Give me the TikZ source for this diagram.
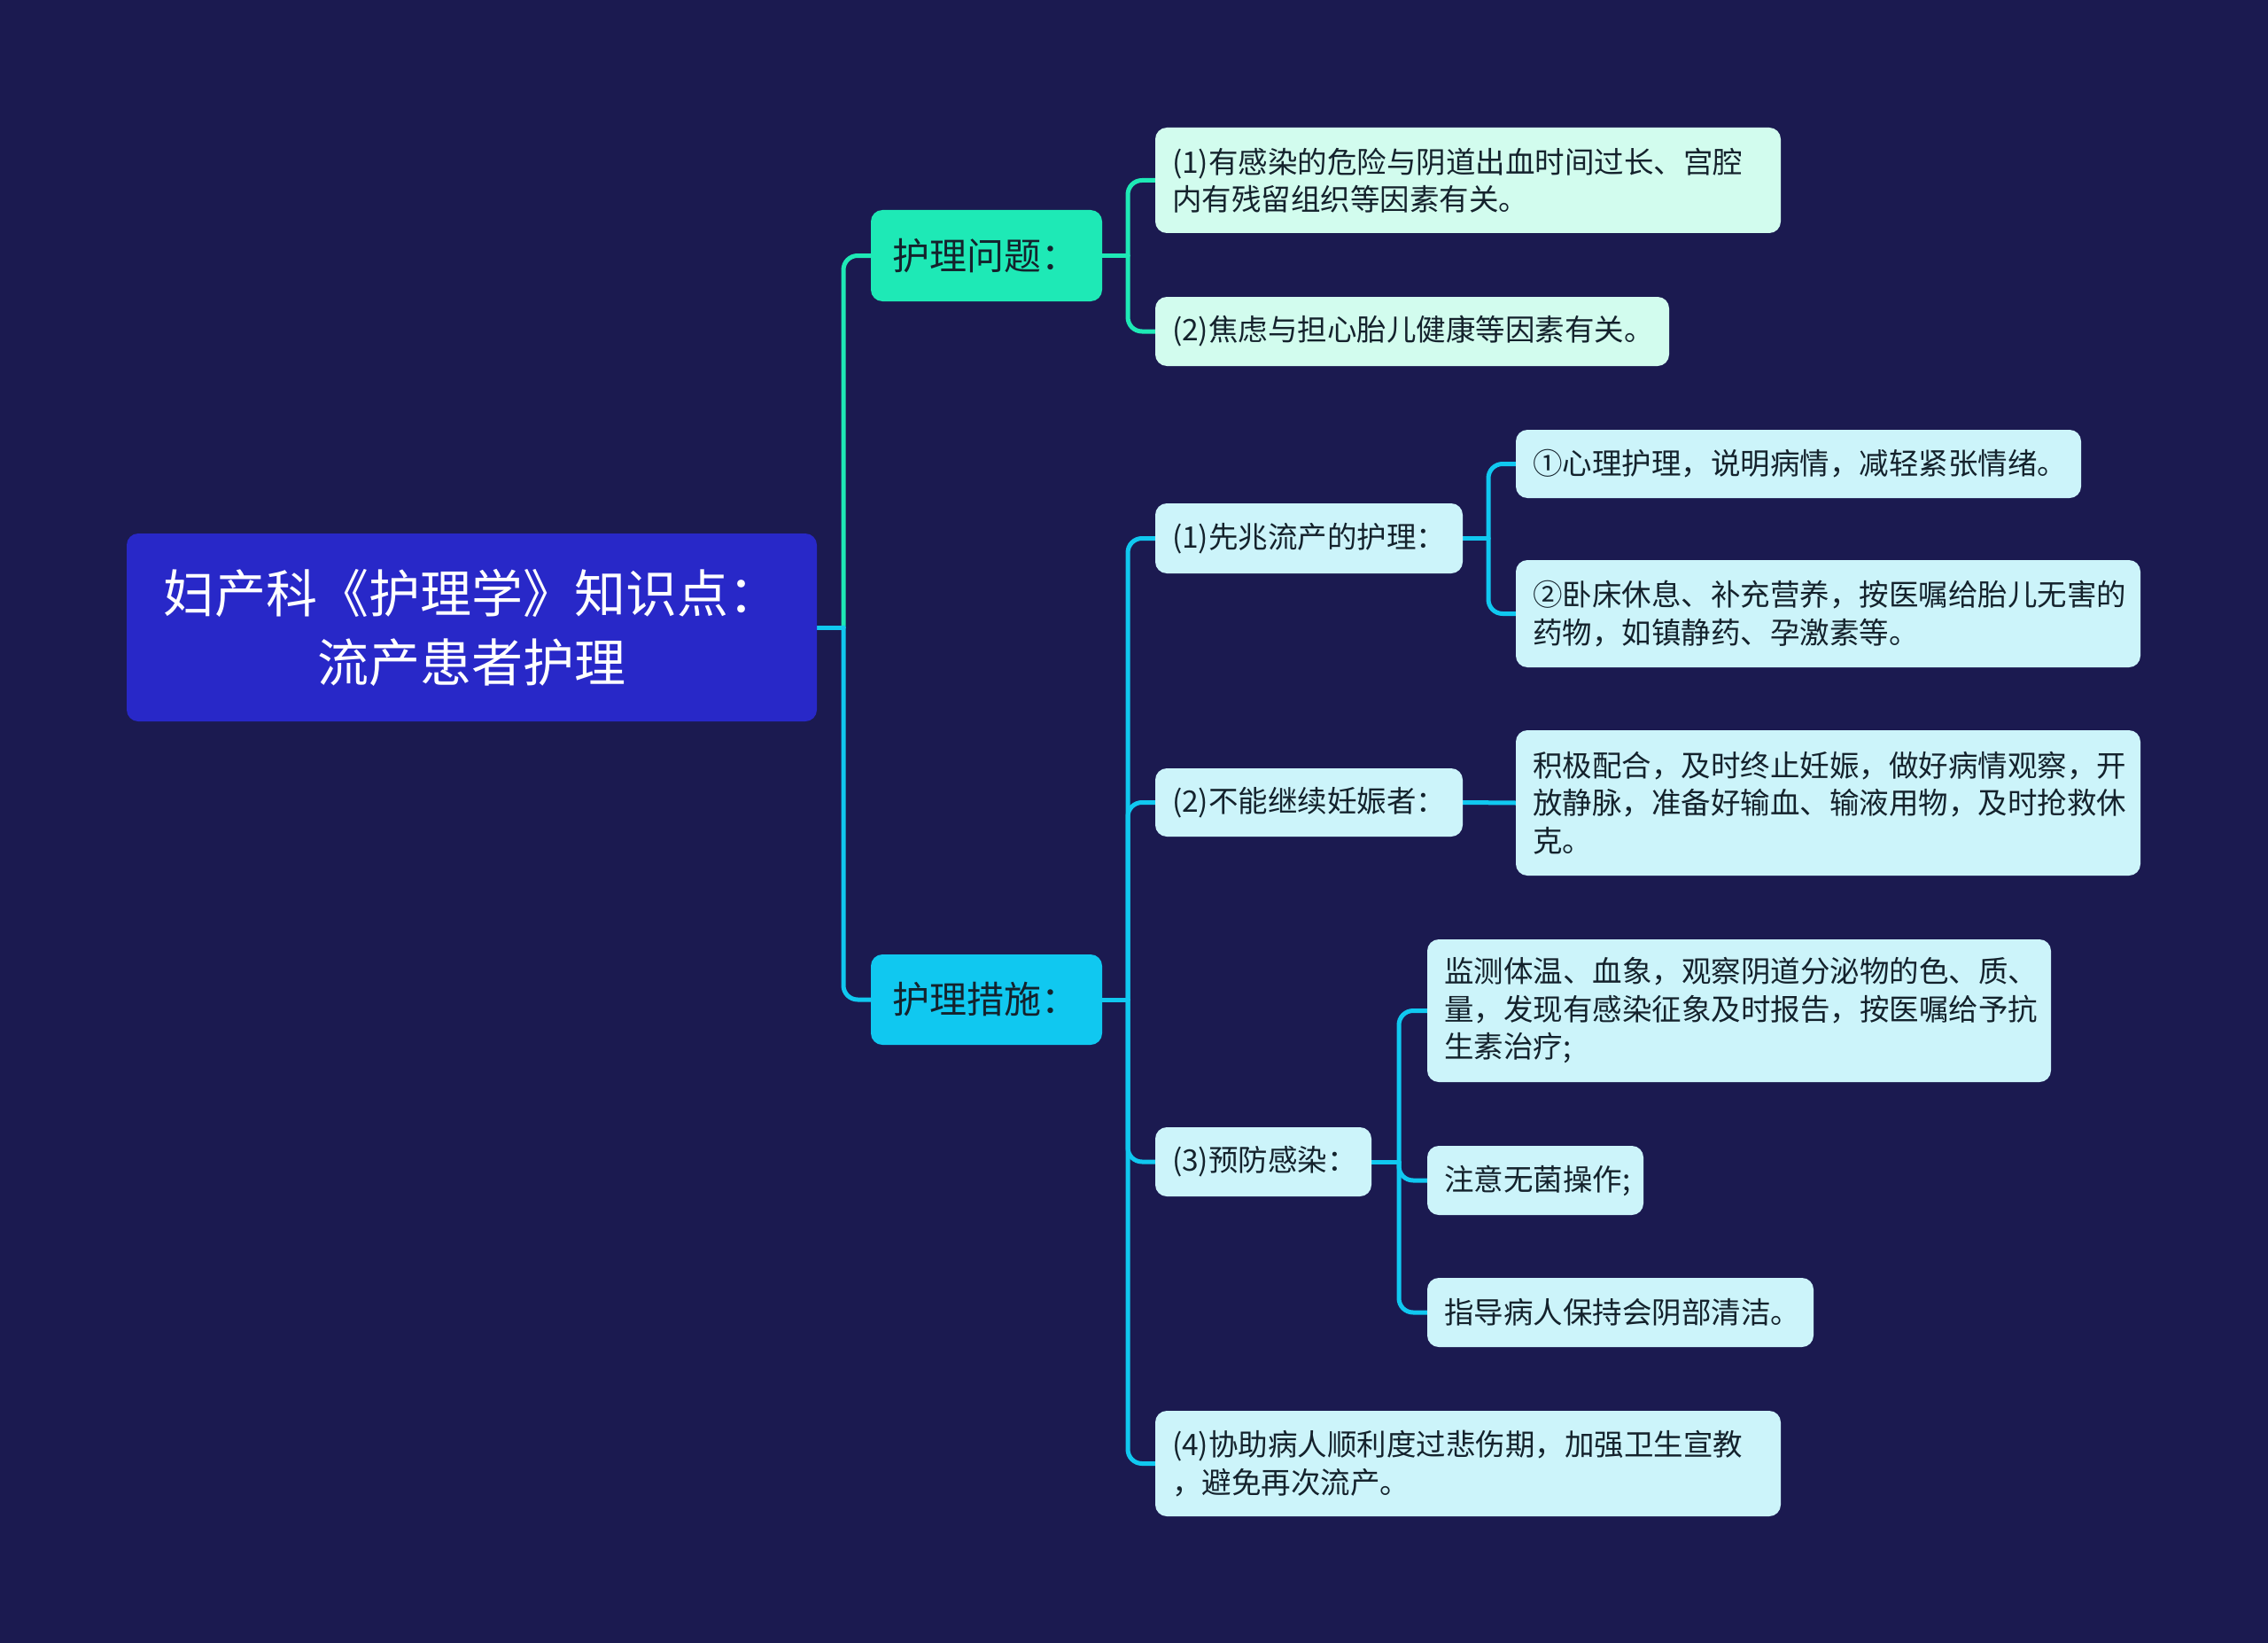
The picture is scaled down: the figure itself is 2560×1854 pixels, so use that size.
\documentclass[tikz,border=0pt]{standalone}
\usepackage{fontspec}
\newfontfamily\cjk{Noto Sans CJK SC}
\usetikzlibrary{calc,backgrounds}
\definecolor{bgc}{RGB}{27,26,80}
\definecolor{rootc}{RGB}{40,40,200}
\definecolor{tealc}{RGB}{30,233,182}
\definecolor{cyanc}{RGB}{16,200,240}
\definecolor{mintc}{RGB}{210,252,238}
\definecolor{lcyanc}{RGB}{204,244,250}
\definecolor{dtext}{RGB}{20,34,44}
\tikzset{
  box/.style={anchor=north west, rounded corners=13pt, outer sep=0pt, inner ysep=0pt, align=left},
  rootbox/.style={box, fill=rootc, text=white, align=center, inner xsep=0pt, font=\cjk\fontsize{58}{78}\selectfont},
  lonea/.style={box, fill=tealc, text=dtext, inner xsep=24pt, font=\cjk\fontsize{42}{48}\selectfont},
  loneb/.style={box, fill=cyanc, text=dtext, inner xsep=24pt, font=\cjk\fontsize{42}{48}\selectfont},
  leafa/.style={box, fill=mintc, text=dtext, inner xsep=19pt, font=\cjk\fontsize{33.5}{42.5}\selectfont},
  leafb/.style={box, fill=lcyanc, text=dtext, inner xsep=19pt, font=\cjk\fontsize{33.5}{42.5}\selectfont},
  conn/.style={line width=5pt, rounded corners=16pt, line cap=round},
}
\begin{document}
\begin{tikzpicture}[x=1pt,y=-1pt]
\useasboundingbox (0,0) rectangle (2560,1854);
% nodes
\node[rootbox, minimum width=779pt, minimum height=212pt, text width=779pt] (root) at (143,602) {妇产科《护理学》知识点：\\流产患者护理};
\node[lonea, minimum width=261pt, minimum height=103pt, text width=213pt] (p1) at (983,237) {护理问题：};
\node[loneb, minimum width=261pt, minimum height=102pt, text width=213pt] (p2) at (983,1077) {护理措施：};
\node[leafa, minimum width=706pt, minimum height=119pt, text width=668pt] (a1) at (1304,144) {(1)有感染的危险与阴道出血时间过长、宫腔\\内有残留组织等因素有关。};
\node[leafa, minimum width=580pt, minimum height=78pt, text width=542pt] (a2) at (1304,335) {(2)焦虑与担心胎儿健康等因素有关。};
\node[leafb, minimum width=347pt, minimum height=79pt, text width=309pt] (b1) at (1304,568) {(1)先兆流产的护理：};
\node[leafb, minimum width=638pt, minimum height=77pt, text width=600pt] (b1a) at (1711,485) {①心理护理，说明病情，减轻紧张情绪。};
\node[leafb, minimum width=705pt, minimum height=121pt, text width=667pt] (b1b) at (1711,632) {②卧床休息、补充营养，按医嘱给胎儿无害的\\药物，如镇静药、孕激素等。};
\node[leafb, minimum width=347pt, minimum height=77pt, text width=309pt] (b2) at (1304,867) {(2)不能继续妊娠者：};
\node[leafb, minimum width=705pt, minimum height=164pt, text width=667pt] (b2a) at (1711,824) {积极配合，及时终止妊娠，做好病情观察，开\\放静脉，准备好输血、输液用物，及时抢救休\\克。};
\node[leafb, minimum width=244pt, minimum height=78pt, text width=206pt] (b3) at (1304,1272) {(3)预防感染：};
\node[leafb, minimum width=704pt, minimum height=161pt, text width=666pt] (b3a) at (1611,1060) {监测体温、血象，观察阴道分泌物的色、质、\\量，发现有感染征象及时报告，按医嘱给予抗\\生素治疗;};
\node[leafb, minimum width=244pt, minimum height=78pt, text width=206pt] (b3b) at (1611,1293) {注意无菌操作;};
\node[leafb, minimum width=436pt, minimum height=78pt, text width=398pt] (b3c) at (1611,1442) {指导病人保持会阴部清洁。};
\node[leafb, minimum width=706pt, minimum height=119pt, text width=668pt] (b4) at (1304,1592) {(4)协助病人顺利度过悲伤期，加强卫生宣教\\，避免再次流产。};
% connectors
\begin{scope}[on background layer]
\fill[bgc] (0,0) rectangle (2560,1854);
\draw[conn, cyanc] (root.east) -- ++(30,0) coordinate (j0);
\draw[conn, tealc] (j0) |- (p1.west);
\draw[conn, cyanc] (j0) |- (p2.west);
\draw[conn, tealc] (p1.east) -- ++(29,0) coordinate (j1);
\draw[conn, tealc] (j1) |- (a1.west);
\draw[conn, tealc] (j1) |- (a2.west);
\draw[conn, cyanc] (p2.east) -- ++(29,0) coordinate (j2);
\draw[conn, cyanc] (j2) |- (b1.west);
\draw[conn, cyanc] (j2) |- (b2.west);
\draw[conn, cyanc] (j2) |- (b3.west);
\draw[conn, cyanc] (j2) |- (b4.west);
\draw[conn, cyanc] (b1.east) -- ++(29,0) coordinate (j3);
\draw[conn, cyanc] (j3) |- (b1a.west);
\draw[conn, cyanc] (j3) |- (b1b.west);
\draw[conn, cyanc] (b2.east) -- (b2a.west);
\draw[conn, cyanc] (b3.east) -- ++(31,0) coordinate (j4);
\draw[conn, cyanc] (j4) |- (b3a.west);
\draw[conn, cyanc] (j4) |- (b3b.west);
\draw[conn, cyanc] (j4) |- (b3c.west);
\end{scope}
\end{tikzpicture}
\end{document}
